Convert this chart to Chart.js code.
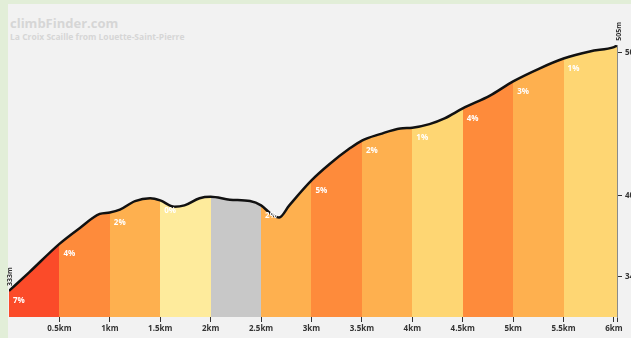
<!DOCTYPE html>
<html lang="en">
<head>
    <meta charset="UTF-8">
    <title>La Croix Scaille from Louette-Saint-Pierre</title>
    <script src="https://cdn.jsdelivr.net/npm/chart.js"></script>
    <style>
        html, body { margin: 0; padding: 0; width: 631px; height: 338px; overflow: hidden; background: #e2eed8; }
        .panel { position: absolute; left: 8px; top: 4px; width: 660px; height: 340px; background: #f2f2f2; }
        #profile { position: absolute; left: 0; top: 0; }
        .brand { position: absolute; left: 10px; top: 14px; font: bold 13px "Open Sans", sans-serif; color: #d6d6d6; }
        .climb { position: absolute; left: 10px; top: 31px; font: bold 8.5px "Open Sans", sans-serif; color: #d6d6d6; }
    </style>
</head>
<body>
    <div class="panel"></div>
    <div class="brand">climbFinder.com</div>
    <div class="climb">La Croix Scaille from Louette-Saint-Pierre</div>
    <canvas id="profile" width="657" height="338"></canvas>

    <script>
        // profile (km, m)
        const distKm = [0, 0.2, 0.5, 0.7, 0.9, 1.0, 1.1, 1.25, 1.4, 1.5, 1.64, 1.74, 1.89, 2.0, 2.19, 2.39, 2.5, 2.6, 2.68, 2.78, 3.0, 3.18, 3.38, 3.5, 3.68, 3.88, 4.0, 4.17, 4.32, 4.5, 4.77, 5.0, 5.26, 5.5, 5.76, 6.0, 6.03];
        const elevation = [333, 346, 366, 377, 387, 388, 390, 396, 398, 396.5, 392, 393, 398, 399, 397, 396, 393, 387, 384.5, 393, 410.5, 422, 433, 438.5, 443, 447, 447.5, 450, 454, 461, 470, 480, 489, 496, 501, 504, 505];

        // one entry per 0.5 km block
        const blockGrades = ['7%', '4%', '2%', '0%', '', '2%', '5%', '2%', '1%', '4%', '3%', '1%'];
        const blockColors = ['#fb4b29', '#fe8b3b', '#feb04f', '#feeb9c', '#c8c8c8', '#feb04f', '#fe8b3b', '#feb04f', '#fed673', '#fe8b3b', '#feb04f', '#fed673'];

        const xTicks = [0.5, 1, 1.5, 2, 2.5, 3, 3.5, 4, 4.5, 5, 5.5, 6, 6.03];
        const yTicks = [343, 400, 500];

        const tickFont = { family: '"Open Sans", sans-serif', size: 8, weight: 'bold' };

        // hard-stop horizontal gradient so the bands have no seams
        function bandFill(c) {
            const chart = c.chart;
            const area = chart.chartArea;
            if (!area) return blockColors[0];
            const x = chart.scales.x;
            const g = chart.ctx.createLinearGradient(area.left, 0, area.right, 0);
            const w = area.right - area.left;
            blockColors.forEach((col, i) => {
                const a = Math.max(0, (x.getPixelForValue(i * 0.5) - area.left) / w);
                const b = i === blockColors.length - 1 ? 1 : Math.min(1, (x.getPixelForValue((i + 1) * 0.5) - area.left) / w);
                g.addColorStop(a, col);
                g.addColorStop(b, col);
            });
            return g;
        }

        // grade labels and start / end heights
        const profileLabels = {
            id: 'profileLabels',
            afterDatasetsDraw(chart) {
                const { ctx, scales: { x, y } } = chart;
                ctx.save();
                ctx.font = 'bold 8px "Open Sans", sans-serif';
                ctx.fillStyle = '#fff';
                ctx.textBaseline = 'middle';
                blockGrades.forEach((g, i) => {
                    if (!g) return;
                    const km = i * 0.5;
                    const idx = distKm.indexOf(km);
                    ctx.fillText(g, x.getPixelForValue(km) + 4, y.getPixelForValue(elevation[idx]) + 10);
                });

                ctx.fillStyle = '#333';
                ctx.font = 'bold 7px "Open Sans", sans-serif';
                const first = elevation[0];
                const last = elevation[elevation.length - 1];
                ctx.translate(x.getPixelForValue(0) + 1, y.getPixelForValue(first) - 5);
                ctx.rotate(-Math.PI / 2);
                ctx.fillText(first + 'm', 0, 0);
                ctx.setTransform(1, 0, 0, 1, 0, 0);
                ctx.translate(x.getPixelForValue(distKm[distKm.length - 1]) + 2, y.getPixelForValue(last) - 5);
                ctx.rotate(-Math.PI / 2);
                ctx.fillText(last + 'm', 0, 0);
                ctx.restore();
            }
        };

        const ctx = document.getElementById('profile').getContext('2d');
        new Chart(ctx, {
            type: 'line',
            data: {
                datasets: [{
                    data: distKm.map((d, i) => ({ x: d, y: elevation[i] })),
                    borderColor: '#111',
                    borderWidth: 2.5,
                    pointRadius: 0,
                    cubicInterpolationMode: 'monotone',
                    fill: 'start',
                    backgroundColor: bandFill
                }]
            },
            options: {
                responsive: false,
                animation: false,
                layout: { padding: { left: 9, top: 45, right: 0, bottom: 0 } },
                plugins: { legend: { display: false }, tooltip: { enabled: false } },
                scales: {
                    x: {
                        type: 'linear',
                        min: 0,
                        max: 6.03,
                        afterBuildTicks: s => { s.ticks = xTicks.map(v => ({ value: v })); },
                        afterFit: s => { s.height = 21; },
                        grid: { drawOnChartArea: false, drawTicks: true, tickLength: 5, color: '#333' },
                        border: { display: false },
                        ticks: {
                            autoSkip: false, maxRotation: 0, padding: 2, color: '#333', font: tickFont,
                            callback: v => v === 6.03 ? '' : v + 'km'
                        }
                    },
                    y: {
                        position: 'right',
                        min: 314.7,
                        max: 505.5,
                        afterBuildTicks: s => { s.ticks = yTicks.map(v => ({ value: v })); },
                        afterFit: s => { s.width = 40; },
                        grid: { drawOnChartArea: false, drawTicks: true, tickLength: 5, color: '#333' },
                        border: { display: true, color: '#8a8a8a', width: 1 },
                        ticks: { padding: 3, color: '#333', font: tickFont, callback: v => v + 'm' }
                    }
                }
            },
            plugins: [profileLabels]
        });
    </script>
</body>
</html>
